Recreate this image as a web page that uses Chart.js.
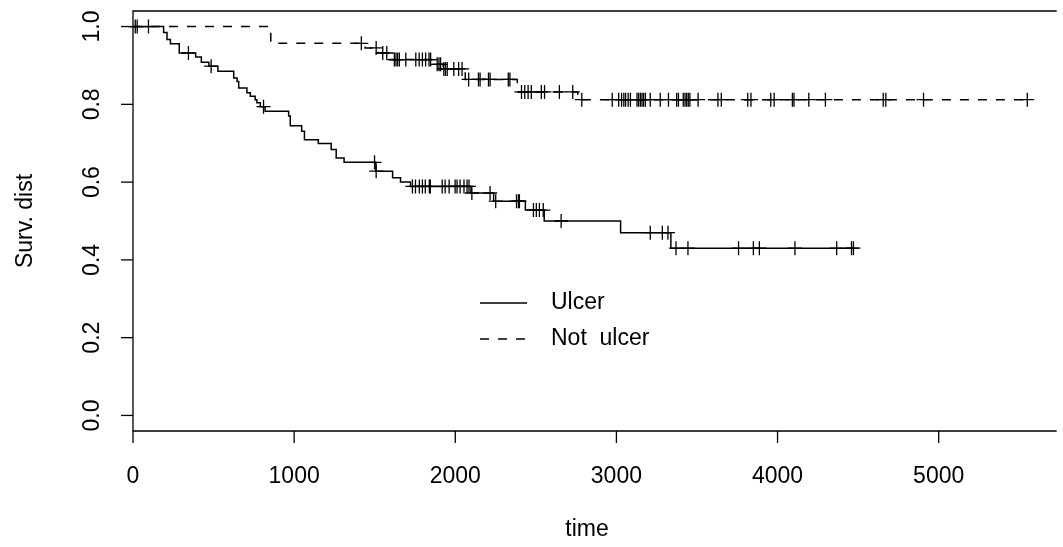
<!DOCTYPE html>
<html>
<head>
<meta charset="utf-8">
<script src="https://cdn.jsdelivr.net/npm/chart.js@4.4.0/dist/chart.umd.min.js"></script>
<style>
  html, body { margin: 0; padding: 0; background: #fff; }
</style>
</head>
<body>
<canvas id="km" width="1063" height="547"></canvas>
<script>
// Kaplan-Meier estimates, by ulceration
const ulcerTime = [0, 190, 211, 232, 287, 389, 424, 471, 527, 625, 646, 656, 707, 728, 758, 769, 790, 820,
  966, 976, 1047, 1064, 1150, 1230, 1261, 1310, 1507, 1611, 1660, 1722, 2097, 2238, 2435, 2552, 3026, 3338];
const ulcerSurv = [1.0, 0.985, 0.967, 0.956, 0.932, 0.922, 0.908, 0.898, 0.885, 0.868, 0.859, 0.842, 0.830, 0.821, 0.812, 0.804, 0.794, 0.782,
  0.770, 0.745, 0.731, 0.709, 0.699, 0.684, 0.662, 0.651, 0.628, 0.611, 0.600, 0.589, 0.572, 0.551, 0.528, 0.500, 0.470, 0.430];
const ulcerCens = [14, 344, 485, 810, 1499, 1509, 1734, 1753, 1777, 1796, 1814, 1839, 1845, 1919, 1937, 1962, 1999,
  2011, 2030, 2054, 2073, 2085, 2103, 2216, 2251, 2380, 2392, 2398, 2485, 2503, 2522, 2546, 2657, 3210, 3285, 3320,
  3370, 3444, 3758, 3850, 3887, 4108, 4367, 4459, 4471];

const notUlcerTime = [0, 855, 1440, 1520, 1585, 1880, 1925, 2062, 2385, 2760];
const notUlcerSurv = [1.0, 0.957, 0.945, 0.932, 0.915, 0.903, 0.891, 0.864, 0.832, 0.812];
const notUlcerCens = [26, 96, 1417, 1509, 1550, 1575, 1622, 1632, 1642, 1653, 1693, 1755, 1776, 1796, 1816, 1837, 1847,
  1888, 1899, 1909, 1929, 1939, 1950, 1991, 2021, 2042, 2083, 2144, 2154, 2206, 2216, 2329, 2339, 2411, 2431, 2452,
  2472, 2534, 2554, 2646, 2729, 2785, 2974, 3014, 3032, 3046, 3057, 3073, 3087, 3128, 3138, 3149, 3159, 3169, 3180,
  3210, 3272, 3323, 3374, 3385, 3415, 3426, 3436, 3446, 3456, 3507, 3630, 3651, 3815, 3835, 3958, 3979, 4092, 4102,
  4194, 4297, 4656, 4672, 4906, 5550];

const xTicks = [0, 1000, 2000, 3000, 4000, 5000];
const yTicks = [0.0, 0.2, 0.4, 0.6, 0.8, 1.0];
const legendLabels = ['Ulcer', 'Not  ulcer'];

const FONT = '23px "Liberation Sans", Arial, sans-serif';

function survAt(times, surv, t) {
  let s = surv[0];
  for (let i = 0; i < times.length; i++) {
    if (times[i] <= t) s = surv[i];
  }
  return s;
}

function curve(times, surv, cens) {
  const pts = times.map((t, i) => ({ x: t, y: surv[i] }));
  const last = Math.max(times[times.length - 1], cens[cens.length - 1]);
  pts.push({ x: last, y: surv[surv.length - 1] });
  return pts;
}

function marks(times, surv, cens) {
  return cens.map(t => ({ x: t, y: survAt(times, surv, t) }));
}

// axes, box, labels and legend drawn in R style
const rAxes = {
  id: 'rAxes',
  afterDraw(chart) {
    const { ctx, chartArea: a, scales: { x, y } } = chart;
    ctx.save();
    ctx.strokeStyle = '#000';
    ctx.lineWidth = 1.3;
    ctx.beginPath();
    ctx.moveTo(a.right + 2, a.top); ctx.lineTo(a.left, a.top);
    ctx.lineTo(a.left, a.bottom); ctx.lineTo(a.right + 2, a.bottom);
    ctx.stroke();

    ctx.fillStyle = '#000';
    ctx.font = FONT;
    ctx.textAlign = 'center';
    ctx.textBaseline = 'middle';

    xTicks.forEach(v => {
      const px = x.getPixelForValue(v);
      ctx.beginPath();
      ctx.moveTo(px, a.bottom); ctx.lineTo(px, a.bottom + 12);
      ctx.stroke();
      ctx.fillText(String(v), px, 477);
    });

    yTicks.forEach(v => {
      const py = y.getPixelForValue(v);
      ctx.beginPath();
      ctx.moveTo(a.left, py); ctx.lineTo(a.left - 12, py);
      ctx.stroke();
      ctx.save();
      ctx.translate(93, py);
      ctx.rotate(-Math.PI / 2);
      ctx.fillText(v.toFixed(1), 0, 0);
      ctx.restore();
    });

    ctx.fillText('time', 587, 530);
    ctx.save();
    ctx.translate(26, (a.top + a.bottom) / 2);
    ctx.rotate(-Math.PI / 2);
    ctx.fillText('Surv. dist', 0, 0);
    ctx.restore();

    // legend
    ctx.textAlign = 'left';
    ctx.lineWidth = 1.5;
    [303, 339].forEach((ly, i) => {
      ctx.setLineDash(i === 0 ? [] : [9, 9]);
      ctx.beginPath();
      ctx.moveTo(480, ly); ctx.lineTo(527, ly);
      ctx.stroke();
      ctx.fillText(legendLabels[i], 551, ly);
    });
    ctx.restore();
  }
};

new Chart(document.getElementById('km'), {
  type: 'line',
  data: {
    datasets: [
      {
        label: 'Ulcer',
        data: curve(ulcerTime, ulcerSurv, ulcerCens),
        stepped: 'before',
        borderColor: '#000',
        borderWidth: 1.5,
        pointRadius: 0,
        fill: false
      },
      {
        label: 'Not ulcer',
        data: curve(notUlcerTime, notUlcerSurv, notUlcerCens),
        stepped: 'before',
        borderColor: '#000',
        borderWidth: 1.5,
        borderDash: [9, 9],
        pointRadius: 0,
        fill: false
      },
      {
        type: 'scatter',
        data: marks(ulcerTime, ulcerSurv, ulcerCens),
        pointStyle: 'cross',
        pointRadius: 7,
        borderColor: '#000',
        borderWidth: 1.3,
        clip: false
      },
      {
        type: 'scatter',
        data: marks(notUlcerTime, notUlcerSurv, notUlcerCens),
        pointStyle: 'cross',
        pointRadius: 7,
        borderColor: '#000',
        borderWidth: 1.3,
        clip: false
      }
    ]
  },
  options: {
    responsive: false,
    animation: false,
    events: [],
    layout: { padding: { left: 133, right: 0, top: 11, bottom: 116 } },
    plugins: { legend: { display: false }, tooltip: { enabled: false } },
    scales: {
      x: { type: 'linear', min: 0, max: 5720, display: false },
      y: { type: 'linear', min: -0.04, max: 1.04, display: false }
    }
  },
  plugins: [rAxes]
});
</script>
</body>
</html>
